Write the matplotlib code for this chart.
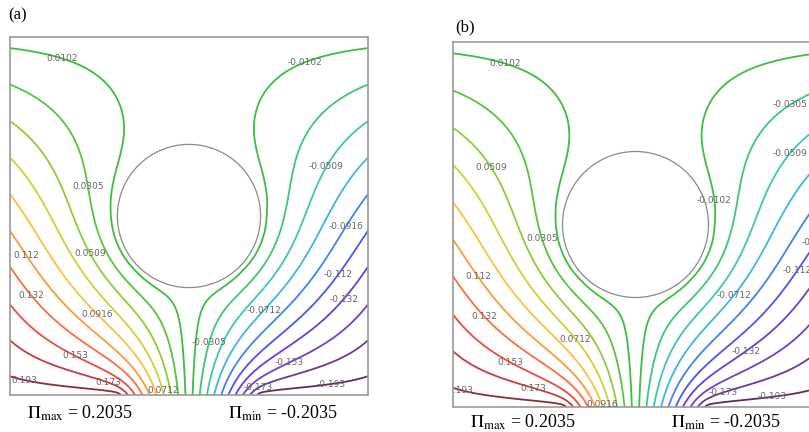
import numpy as np
import matplotlib
matplotlib.use('Agg')
import matplotlib.pyplot as plt
from matplotlib.patches import Circle

# ---- data ----
pi_max = 0.2035
pi_min = -0.2035
levels_pos = [0.0102, 0.0305, 0.0509, 0.0712, 0.0916, 0.112, 0.132, 0.153, 0.173, 0.193]
levels = sorted([-v for v in levels_pos] + levels_pos)

# boundary values of the field (bottom inlet, side walls, top wall)
inlet_x = [-1.0, -0.4, 0.4, 1.0]
inlet_psi = [0.2035, 0.2035, -0.2035, -0.2035]
wall_y = [0.0, 2.0]
wall_psi = [0.2035, 0.004]
top_x = [-1.0, 1.0]
top_psi = [0.004, -0.004]

# obstacle
circle_c = (0.0, 1.0)
circle_r = 0.4

# colours from -0.193 to 0.193
line_colors = ['#5e2d5e', '#6a3a9c', '#7040c8', '#5f42e0', '#4b55f0', '#3f82f5', '#3cb6e4', '#3cc8b0',
               '#3cc87a', '#3cbe46', '#3cbe3c', '#58c43c', '#92cc34', '#ccd234', '#ffbe40', '#ff9838',
               '#ff6c3c', '#f04a3c', '#c83c3c', '#8c2d37']

# contour label positions (x, y)
labels_a = [(-0.71, 1.87), (0.66, 1.83), (-0.58, 1.16), (0.74, 1.29),
            (-0.56, 0.79), (0.88, 0.94), (-0.92, 0.77), (0.85, 0.66),
            (-0.89, 0.55), (0.87, 0.53), (-0.51, 0.45), (0.42, 0.47),
            (0.12, 0.29), (-0.64, 0.21), (0.56, 0.18), (-0.92, 0.08),
            (-0.45, 0.07), (-0.13, 0.03), (0.39, 0.04), (0.79, 0.07)]
labels_b = [(-0.72, 1.86), (0.84, 1.67), (0.42, 1.13), (0.87, 1.37),
            (-0.80, 1.31), (-0.52, 0.92), (0.95, 0.93), (0.90, 0.74),
            (-0.88, 0.70), (0.55, 0.60), (-0.82, 0.50), (-0.32, 0.38),
            (0.60, 0.31), (-0.68, 0.26), (-0.96, 0.09), (-0.56, 0.10),
            (-0.19, 0.01), (0.48, 0.08), (0.75, 0.06)]


def solve_field(n=181, iters=3000):
    # Laplace equation for the stream function, red-black SOR
    x = np.linspace(-1, 1, n)
    y = np.linspace(0, 2, n)
    X, Y = np.meshgrid(x, y)
    psi = np.zeros((n, n))
    fixed = np.zeros((n, n), bool)
    fixed[0, :] = fixed[-1, :] = fixed[:, 0] = fixed[:, -1] = True
    psi[0, :] = np.interp(x, inlet_x, inlet_psi)
    psi[-1, :] = np.interp(x, top_x, top_psi)
    psi[:, 0] = np.interp(y, wall_y, wall_psi)
    psi[:, -1] = -psi[:, 0]
    solid = (X - circle_c[0]) ** 2 + (Y - circle_c[1]) ** 2 <= circle_r ** 2
    fixed |= solid
    psi[solid] = 0.0
    parity = np.add.outer(np.arange(n), np.arange(n)) % 2
    masks = [(~fixed) & (parity == p) for p in (0, 1)]
    omega = 2 / (1 + np.sin(np.pi / n))
    nb = np.zeros_like(psi)
    for it in range(iters):
        for m in masks:
            nb[1:-1, 1:-1] = 0.25 * (psi[:-2, 1:-1] + psi[2:, 1:-1] + psi[1:-1, :-2] + psi[1:-1, 2:])
            psi[m] += omega * (nb[m] - psi[m])
    return X, Y, psi


def draw_panel(ax, X, Y, psi, label_pos):
    cs = ax.contour(X, Y, psi, levels=levels, colors=line_colors, linewidths=1.3)
    texts = ax.clabel(cs, manual=label_pos, inline=False, fmt='%.3g',
                      fontsize=6.5, colors='#666666')
    # labels are written flat in the reference
    for t in texts:
        t.set_rotation(0)
    ax.add_patch(Circle(circle_c, circle_r, fill=False, ec='#8a8a8a', lw=0.9))
    ax.set_xlim(-1, 1)
    ax.set_ylim(0, 2)
    ax.set_xticks([])
    ax.set_yticks([])
    for s in ax.spines.values():
        s.set_color('#9a9a9a')
        s.set_linewidth(1.2)


X, Y, psi = solve_field()

fig = plt.figure(figsize=(8.09, 4.32), dpi=100)
W, H = 809, 432
ax_a = fig.add_axes([10 / W, (H - 395) / H, 358 / W, 358 / H])
ax_b = fig.add_axes([453 / W, (H - 407) / H, 365 / W, 365 / H])
draw_panel(ax_a, X, Y, psi, labels_a)
draw_panel(ax_b, X, Y, psi, labels_b)

plt.rcParams['mathtext.fontset'] = 'stix'
serif = 'Liberation Serif'
fig.text(8 / W, 1 - 15 / H, '(a)', fontsize=12, family=serif, va='center')
fig.text(455 / W, 1 - 27 / H, '(b)', fontsize=12, family=serif, va='center')

txt_max = r'$\Pi_{\mathrm{max}}$ = ' + f'{pi_max:.4f}'
txt_min = r'$\Pi_{\mathrm{min}}$ = ' + f'{pi_min:.4f}'
fig.text(27 / W, 1 - 413 / H, txt_max, fontsize=13, family=serif, va='center')
fig.text(228 / W, 1 - 413 / H, txt_min, fontsize=13, family=serif, va='center')
fig.text(470 / W, 1 - 422 / H, txt_max, fontsize=13, family=serif, va='center')
fig.text(671 / W, 1 - 422 / H, txt_min, fontsize=13, family=serif, va='center')

fig.savefig('out.png', dpi=100)
